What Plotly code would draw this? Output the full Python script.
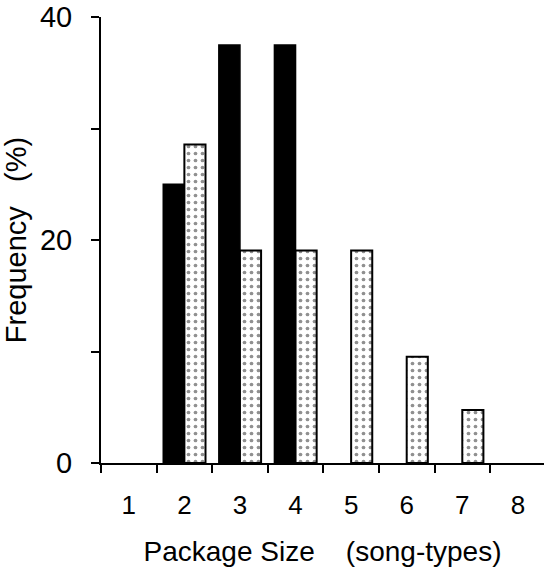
import plotly.graph_objects as go

categories = [1, 2, 3, 4, 5, 6, 7, 8]
solid_values = [None, 25.0, 37.5, 37.5, None, None, None, None]
dotted_values = [None, 28.57, 19.05, 19.05, 19.05, 9.52, 4.76, None]
y_tickvals = [0, 10, 20, 30, 40]
y_ticktext = ["0", "", "20", "", "40"]
x_boundaries = [0.5, 1.5, 2.5, 3.5, 4.5, 5.5, 6.5, 7.5, 8.5]

family = "Liberation Sans, Arial, sans-serif"
xtick_font = dict(family=family, size=26, color="black")
xtitle_font = dict(family=family, size=28, color="black")
ytick_font = dict(family=family, size=29, color="black")
ytitle_font = dict(family=family, size=29, color="black")

fig = go.Figure()
fig.add_trace(go.Bar(
    x=categories, y=solid_values,
    marker=dict(color="black", line=dict(color="black", width=1.5)),
    showlegend=False,
))
fig.add_trace(go.Bar(
    x=categories, y=dotted_values,
    marker=dict(
        color="white",
        line=dict(color="black", width=2),
        pattern=dict(shape=".", fgcolor="#222222", bgcolor="white", size=7, solidity=0.22),
    ),
    showlegend=False,
))

fig.update_layout(
    width=544, height=569,
    margin=dict(l=101, r=0, t=17, b=106),
    paper_bgcolor="white", plot_bgcolor="white",
    barmode="group", bargap=0.24, bargroupgap=0,
    xaxis=dict(
        range=[0.5, 8.47],
        tickvals=categories,
        ticktext=[str(c) for c in categories],
        ticks="",
        showline=True, linecolor="black", linewidth=2,
        showgrid=False, zeroline=False,
        automargin=False,
        ticklabelstandoff=18,
        minor=dict(tickvals=x_boundaries, ticks="outside", ticklen=8, tickwidth=2, tickcolor="black", showgrid=False),
        title=dict(text="Package Size\u00a0\u00a0\u00a0\u00a0(song-types)", font=xtitle_font, standoff=22),
        tickfont=xtick_font,
    ),
    yaxis=dict(
        range=[0, 40],
        tickvals=y_tickvals,
        ticktext=y_ticktext,
        ticks="outside", ticklen=8, tickwidth=2, tickcolor="black",
        showline=True, linecolor="black", linewidth=2,
        showgrid=False, zeroline=False,
        automargin=True,
        ticklabelstandoff=13,
        ticklabeloverflow="allow",
        title=dict(text="Frequency\u00a0\u00a0\u00a0(%)", font=ytitle_font, standoff=12),
        tickfont=ytick_font,
    ),
)

fig.write_html("out.html", config={"displayModeBar": False},
               post_script="document.body.style.margin='0';")
